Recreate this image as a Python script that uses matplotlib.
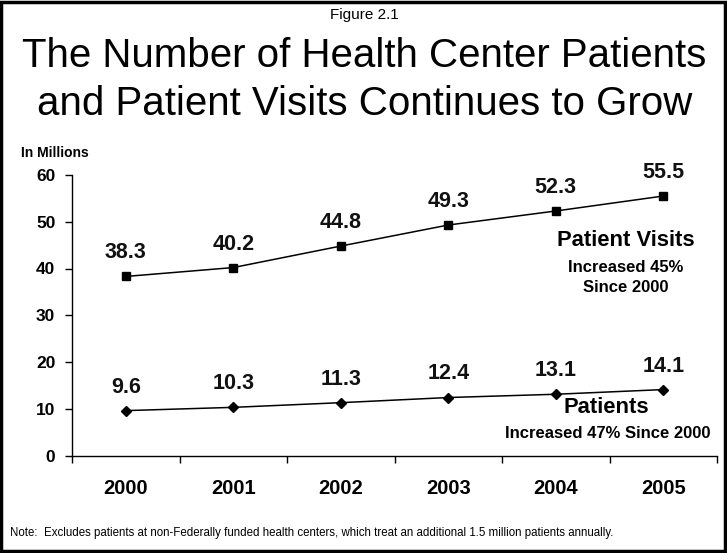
import numpy as np
import matplotlib
matplotlib.use('Agg')
import matplotlib.pyplot as plt
from matplotlib.patches import Rectangle

plt.rcParams['font.family'] = ['Liberation Sans', 'DejaVu Sans']

years = ['2000', '2001', '2002', '2003', '2004', '2005']
visits = [38.3, 40.2, 44.8, 49.3, 52.3, 55.5]
patients = [9.6, 10.3, 11.3, 12.4, 13.1, 14.1]

W, H = 727, 553
fig = plt.figure(figsize=(W / 100, H / 100), dpi=100)
fig.patch.set_facecolor('white')

# axes box in pixel coordinates
x0, x1, y0, y1 = 72, 717, 455.5, 175
ax = fig.add_axes([x0 / W, 1 - y0 / H, (x1 - x0) / W, (y0 - y1) / H])

x = np.arange(len(years))
ax.plot(x, visits, color='black', lw=1.1, marker='s', ms=5.5)
ax.plot(x, patients, color='black', lw=1.1, marker='D', ms=5)

# value labels above each point
for series in (visits, patients):
    for xi, v in zip(x, series):
        ax.annotate(f'{v:.1f}', (xi, v), xytext=(0, 13), textcoords='offset points',
                    ha='center', va='baseline', fontsize=15.5, fontweight='bold', color='#111111')

ax.set_xlim(-0.5, len(years) - 0.5)
ax.set_ylim(0, 60)
ax.set_yticks(range(0, 61, 10))
ax.set_xticks(np.arange(-0.5, len(years), 1.0))
ax.set_xticklabels([])
ax.set_xticks(x, minor=True)
ax.set_xticklabels(years, minor=True)
ax.tick_params(axis='x', which='major', direction='out', length=5, width=1)
ax.tick_params(axis='x', which='minor', length=0, pad=17, labelsize=14.5)
ax.tick_params(axis='y', direction='out', length=5, width=1, labelsize=12.5, pad=7)
for lab in ax.get_xticklabels(minor=True) + ax.get_yticklabels():
    lab.set_fontweight('bold')
ax.spines['top'].set_visible(False)
ax.spines['right'].set_visible(False)
for s in ['left', 'bottom']:
    ax.spines[s].set_linewidth(1)

# series annotations
ax.text(4.65, 45.9, 'Patient Visits', ha='center', va='center', fontsize=15.8, fontweight='bold')
ax.text(4.65, 40.3, 'Increased 45%', ha='center', va='center', fontsize=12, fontweight='bold')
ax.text(4.65, 36.0, 'Since 2000', ha='center', va='center', fontsize=12, fontweight='bold')
ax.text(4.47, 10.2, 'Patients', ha='center', va='center', fontsize=15.8, fontweight='bold')
ax.text(4.48, 4.8, 'Increased 47% Since 2000', ha='center', va='center', fontsize=12, fontweight='bold')

ax.text(-0.97, 64.7, 'In Millions', ha='left', va='center', fontsize=10, fontweight='bold',
        transform=ax.transData, clip_on=False)

# titles
fig.text(364 / W, 1 - 15 / H, 'Figure 2.1', ha='center', va='center', fontsize=11)
fig.text(364 / W, 1 - 67 / H, 'The Number of Health Center Patients', ha='center', va='baseline', fontsize=29)
fig.text(365 / W, 1 - 115 / H, 'and Patient Visits Continues to Grow', ha='center', va='baseline', fontsize=29)

fig.text(10 / W, 1 - 533 / H,
         'Note:  Excludes patients at non-Federally funded health centers, which treat an additional 1.5 million patients annually.',
         ha='left', va='center', fontsize=8.3)

fig.add_artist(Rectangle((0.002, 0.003), 0.995, 0.994, transform=fig.transFigure,
                         fill=False, edgecolor='black', lw=2.5))

fig.savefig('out.png', dpi=100)
